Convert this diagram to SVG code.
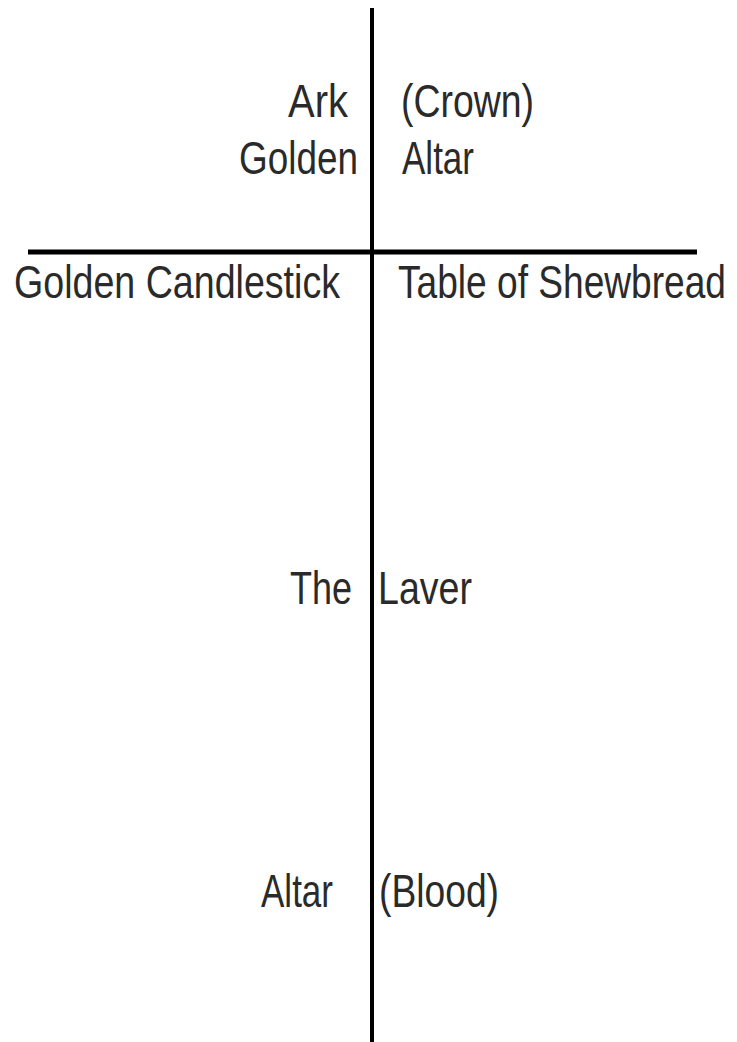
<svg xmlns="http://www.w3.org/2000/svg" width="737" height="1042" viewBox="0 0 737 1042">
<style>
text{font-family:"Liberation Sans",Arial,sans-serif;font-size:46px;fill:#2a2a2a}
.ln{stroke:#000;fill:none}
</style>
<rect width="737" height="1042" fill="#fff"/>
<g id="connectors">
<line class="ln" x1="372" y1="8" x2="372" y2="1042" stroke-width="4"/>
<line class="ln" x1="28" y1="252" x2="697" y2="252" stroke-width="5"/>
</g>
<g id="ark"><text x="288" y="117" textLength="60" lengthAdjust="spacingAndGlyphs">Ark</text></g>
<g id="crown"><text x="401" y="117" textLength="133" lengthAdjust="spacingAndGlyphs">(Crown)</text></g>
<g id="golden"><text x="239" y="174" textLength="119" lengthAdjust="spacingAndGlyphs">Golden</text></g>
<g id="altar-top"><text x="402" y="174" textLength="72" lengthAdjust="spacingAndGlyphs">Altar</text></g>
<g id="candlestick"><text x="14" y="298" textLength="326" lengthAdjust="spacingAndGlyphs">Golden Candlestick</text></g>
<g id="shewbread"><text x="398" y="298" textLength="328" lengthAdjust="spacingAndGlyphs">Table of Shewbread</text></g>
<g id="the"><text x="290" y="604" textLength="62" lengthAdjust="spacingAndGlyphs">The</text></g>
<g id="laver"><text x="378" y="604" textLength="94" lengthAdjust="spacingAndGlyphs">Laver</text></g>
<g id="altar-bottom"><text x="261" y="907" textLength="72" lengthAdjust="spacingAndGlyphs">Altar</text></g>
<g id="blood"><text x="379" y="907" textLength="120" lengthAdjust="spacingAndGlyphs">(Blood)</text></g>
</svg>
